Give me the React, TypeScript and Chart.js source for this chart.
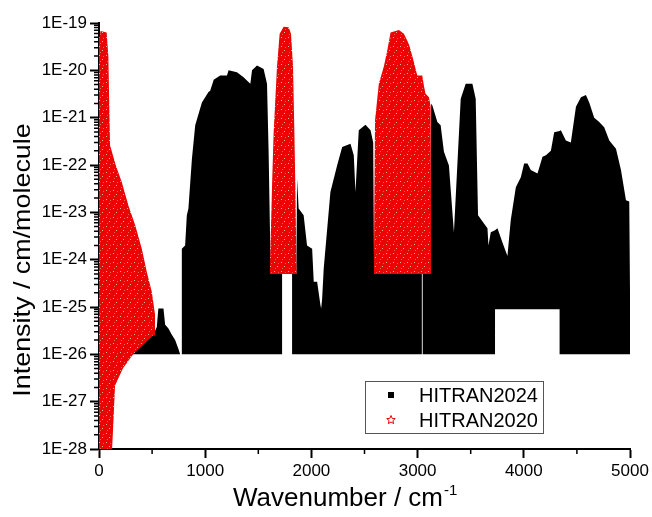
import React, { useEffect, useRef } from 'react';
import { Chart, registerables } from 'chart.js';

Chart.register(...registerables);

// ---------- data ----------
const seriesLabels = ['HITRAN2024', 'HITRAN2020'];

// HITRAN2024: upper envelope of the dense line list
const h24UpperWavenumber = [
  302, 330, 512, 544, 559, 607, 623, 654, 686, 717, 748, 764, 780, 780, 811, 827, 842, 875, 906, 969,
  1031, 1047, 1080, 1141, 1205, 1220, 1299, 1361, 1425, 1441, 1488, 1550, 1582, 1597, 1613, 1620, 1724, 1724, 1818, 1818,
  1858, 1865, 1880, 1927, 1959, 2007, 2022, 2054, 2085, 2092, 2101, 2116, 2179, 2242, 2290, 2368, 2399, 2415, 2446, 2509,
  2557, 2582, 2590, 3040, 3040, 3048, 3048, 3118, 3128, 3139, 3186, 3217, 3248, 3295, 3311, 3342, 3374, 3406, 3453, 3516,
  3547, 3569, 3625, 3658, 3667, 3689, 3729, 3752, 3799, 3846, 3877, 3925, 3972, 4003, 4035, 4066, 4129, 4176, 4208, 4255,
  4286, 4337, 4349, 4396, 4443, 4491, 4538, 4585, 4616, 4663, 4710, 4757, 4805, 4868, 4915, 4962, 4993, 5005,
];
const h24UpperIntensity = [
  1e-26, 2.5e-26, 2.6e-26, 3.8e-26, 9.3e-26, 9.3e-26, 4.2e-26, 3.5e-26, 2.6e-26, 2.0e-26, 1.3e-26, 1e-26, 1e-26, 1.7e-24, 2.0e-24, 8.7e-24, 1.2e-23, 1.35e-22, 6.9e-22, 2.1e-21,
  3.5e-21, 3.7e-21, 6.3e-21, 7.8e-21, 7.8e-21, 1.0e-20, 9.1e-21, 7.1e-21, 5.2e-21, 1.0e-20, 1.26e-20, 1.07e-20, 5.2e-21, 2.0e-22, 1.6e-24, 5e-25, 5e-25, 1e-26, 1e-26, 5e-25,
  5e-25, 5.1e-23, 1.2e-23, 8.7e-24, 2.0e-24, 1.7e-24, 3.4e-25, 3.4e-25, 1.1e-25, 9.3e-26, 1.5e-25, 6.5e-25, 2.7e-23, 9.8e-23, 2.4e-22, 2.8e-22, 1.6e-22, 2.7e-23, 5.4e-22, 7.1e-22,
  5.4e-22, 3.0e-22, 5e-25, 5e-25, 1e-26, 1e-26, 5e-25, 5e-25, 2.0e-21, 1.8e-21, 8.1e-22, 6.9e-22, 1.9e-22, 9.8e-23, 3.2e-23, 3.8e-24, 9.8e-23, 2.5e-21, 5.2e-21, 5.2e-21,
  2.5e-21, 8.7e-24, 5.8e-24, 4.6e-24, 2.0e-24, 3.8e-24, 4.2e-24, 4.6e-24, 2.3e-24, 1.2e-24, 6.8e-24, 3.4e-23, 5.5e-23, 1.07e-22, 1.07e-22, 7.8e-23, 6.6e-23, 1.5e-22, 1.6e-22, 2.0e-22,
  4.9e-22, 5.2e-22, 5.4e-22, 3.3e-22, 3.0e-22, 1.7e-21, 2.7e-21, 3.0e-21, 2.1e-21, 1.0e-21, 8.1e-22, 6.3e-22, 3.3e-22, 2.2e-22, 7.8e-23, 1.8e-23, 1.7e-23, 1e-26,
];
// HITRAN2024: lower envelope (intensity cut-off)
const h24LowerWavenumber = [302, 3729, 3729, 4337, 4337, 5005];
const h24LowerIntensity = [1e-26, 1e-26, 9e-26, 9e-26, 1e-26, 1e-26];

// HITRAN2020: three bands, upper / lower envelopes
const h20Band1UpperWavenumber = [0, 15, 72, 88, 104, 157, 214, 277, 340, 403, 450, 497, 528, 528];
const h20Band1UpperIntensity = [4.5e-20, 6.8e-20, 6.3e-20, 2.0e-20, 2.6e-22, 1.0e-22, 4.4e-23, 1.4e-23, 5.4e-24, 1.7e-24, 5.5e-25, 2.1e-25, 6.8e-26, 2.5e-26];
const h20Band1LowerWavenumber = [0, 123, 132, 151, 226, 321, 415, 509, 528];
const h20Band1LowerIntensity = [1e-28, 1e-28, 2.5e-28, 2.2e-27, 5.1e-27, 1e-26, 1.6e-26, 2.5e-26, 2.5e-26];

const h20Band2UpperWavenumber = [1608, 1629, 1644, 1676, 1701, 1739, 1786, 1808, 1827, 1840, 1849, 1858, 1862];
const h20Band2UpperIntensity = [5e-25, 3.4e-23, 4.6e-22, 1.2e-20, 5.9e-20, 8.3e-20, 8.1e-20, 5.9e-20, 1.2e-20, 4.6e-22, 3.4e-23, 9.8e-25, 5e-25];
const h20Band2LowerWavenumber = [1608, 1862];
const h20Band2LowerIntensity = [5e-25, 5e-25];

const h20Band3UpperWavenumber = [2588, 2599, 2635, 2682, 2714, 2745, 2824, 2871, 2918, 2950, 2997, 3044, 3059, 3075, 3107, 3123, 3128];
const h20Band3UpperIntensity = [5e-25, 8.7e-22, 5.2e-21, 1.2e-20, 2.6e-20, 6.3e-20, 7.1e-20, 5.9e-20, 3.6e-20, 2.0e-20, 7.8e-21, 7.8e-21, 4.8e-21, 3.2e-21, 2.7e-21, 1.7e-21, 5e-25];
const h20Band3LowerWavenumber = [2588, 3128];
const h20Band3LowerIntensity = [5e-25, 5e-25];

// axes
const xTickValues = [0, 1000, 2000, 3000, 4000, 5000];
const xMinorTickValues = [500, 1500, 2500, 3500, 4500];
const yTickValues = [1e-28, 1e-27, 1e-26, 1e-25, 1e-24, 1e-23, 1e-22, 1e-21, 1e-20, 1e-19];
const yMinorMultipliers = [2, 3, 4, 5, 6, 7, 8, 9];
const xTitle = 'Wavenumber / cm';
const xTitleSup = '-1';
const yTitle = 'Intensity / cm/molecule';

const FONT = 'Arial, "Liberation Sans", Helvetica, sans-serif';
const BLACK = '#000000';
const RED = 'rgb(234,4,4)';

function pts(xs: number[], ys: number[]) {
  return xs.map((x, i) => ({ x, y: ys[i] }));
}

function starPath(ctx: CanvasRenderingContext2D, cx: number, cy: number, r: number) {
  const inner = r * 0.45;
  ctx.beginPath();
  for (let i = 0; i < 10; i++) {
    const rr = i % 2 === 0 ? r : inner;
    const ang = -Math.PI / 2 + (i * Math.PI) / 5;
    const px = cx + rr * Math.cos(ang);
    const py = cy + rr * Math.sin(ang);
    if (i === 0) ctx.moveTo(px, py);
    else ctx.lineTo(px, py);
  }
  ctx.closePath();
}

// marker texture of the dense star symbols (style only)
function makeRedPattern(): CanvasPattern | string {
  const c = document.createElement('canvas');
  c.width = 7;
  c.height = 9;
  const g = c.getContext('2d');
  if (!g) return RED;
  g.fillStyle = RED;
  g.fillRect(0, 0, 7, 9);
  g.fillStyle = 'rgba(255,225,225,0.75)';
  g.fillRect(1, 1, 1, 1);
  g.fillRect(4, 5, 1, 1);
  g.fillStyle = 'rgba(255,200,200,0.45)';
  g.fillRect(5, 2, 1, 1);
  g.fillRect(2, 7, 1, 1);
  const p = g.createPattern(c, 'repeat');
  return p || RED;
}

export default function App() {
  const ref = useRef<HTMLCanvasElement | null>(null);

  useEffect(() => {
    const canvas = ref.current;
    if (!canvas) return;
    const redFill = makeRedPattern();

    const decor = {
      id: 'decor',
      afterDraw(chart: any) {
        const { ctx, chartArea: a, scales } = chart;
        const xs = scales.x;
        const ys = scales.y;
        ctx.save();
        // minor ticks
        ctx.strokeStyle = '#000';
        ctx.lineWidth = 1.5;
        ctx.beginPath();
        for (let i = 0; i < yTickValues.length - 1; i++) {
          for (const m of yMinorMultipliers) {
            const py = ys.getPixelForValue(yTickValues[i] * m);
            ctx.moveTo(a.left - 5, py);
            ctx.lineTo(a.left, py);
          }
        }
        for (const v of xMinorTickValues) {
          const px = xs.getPixelForValue(v);
          ctx.moveTo(px, a.bottom);
          ctx.lineTo(px, a.bottom + 5);
        }
        ctx.stroke();

        // x title with superscript
        ctx.fillStyle = '#000';
        ctx.font = `26px ${FONT}`;
        ctx.textAlign = 'left';
        ctx.textBaseline = 'alphabetic';
        const tx = a.left + 134;
        const ty = a.bottom + 57;
        ctx.fillText(xTitle, tx, ty);
        const w = ctx.measureText(xTitle).width;
        ctx.font = `15px ${FONT}`;
        ctx.fillText(xTitleSup, tx + w + 1, ty - 11);

        // y title
        ctx.save();
        ctx.translate(30, a.top + 237);
        ctx.rotate(-Math.PI / 2);
        ctx.scale(1.12, 1);
        ctx.font = `24px ${FONT}`;
        ctx.textAlign = 'center';
        ctx.fillText(yTitle, 0, 0);
        ctx.restore();

        // legend
        const lx = a.left + 266;
        const ly = a.top + 358;
        const lw = 178;
        const lh = 52;
        ctx.fillStyle = '#fff';
        ctx.fillRect(lx, ly, lw, lh);
        ctx.strokeStyle = '#555';
        ctx.lineWidth = 1;
        ctx.strokeRect(lx + 0.5, ly + 0.5, lw, lh);
        ctx.fillStyle = BLACK;
        ctx.fillRect(lx + 23, ly + 11, 6, 6);
        ctx.strokeStyle = RED;
        ctx.lineWidth = 1;
        starPath(ctx, lx + 26, ly + 39, 4.5);
        ctx.stroke();
        ctx.fillStyle = '#000';
        ctx.font = `20px ${FONT}`;
        ctx.textAlign = 'left';
        ctx.textBaseline = 'middle';
        ctx.fillText(seriesLabels[0], lx + 54, ly + 15);
        ctx.fillText(seriesLabels[1], lx + 54, ly + 40);
        ctx.restore();
      },
    };

    const common = { pointRadius: 0, borderWidth: 0, borderColor: 'transparent', tension: 0 };

    const chart = new Chart(canvas, {
      type: 'line',
      data: {
        datasets: [
          { ...common, label: seriesLabels[0], data: pts(h24UpperWavenumber, h24UpperIntensity), backgroundColor: BLACK, fill: 1, order: 2 },
          { ...common, label: seriesLabels[0] + ' cut-off', data: pts(h24LowerWavenumber, h24LowerIntensity), fill: false, order: 2 },
          { ...common, label: seriesLabels[1], data: pts(h20Band1UpperWavenumber, h20Band1UpperIntensity), backgroundColor: redFill, fill: 3, order: 1 },
          { ...common, label: seriesLabels[1] + ' low 1', data: pts(h20Band1LowerWavenumber, h20Band1LowerIntensity), fill: false, order: 1 },
          { ...common, label: seriesLabels[1] + ' b2', data: pts(h20Band2UpperWavenumber, h20Band2UpperIntensity), backgroundColor: redFill, fill: 5, order: 1 },
          { ...common, label: seriesLabels[1] + ' low 2', data: pts(h20Band2LowerWavenumber, h20Band2LowerIntensity), fill: false, order: 1 },
          { ...common, label: seriesLabels[1] + ' b3', data: pts(h20Band3UpperWavenumber, h20Band3UpperIntensity), backgroundColor: redFill, fill: 7, order: 1 },
          { ...common, label: seriesLabels[1] + ' low 3', data: pts(h20Band3LowerWavenumber, h20Band3LowerIntensity), fill: false, order: 1 },
        ] as any,
      },
      options: {
        responsive: false,
        animation: false,
        devicePixelRatio: 1,
        events: [],
        layout: { padding: { top: 23, right: 22, left: 0, bottom: 0 } },
        plugins: { legend: { display: false }, tooltip: { enabled: false } },
        scales: {
          x: {
            type: 'linear',
            min: 0,
            max: 5000,
            afterBuildTicks: (s: any) => {
              s.ticks = xTickValues.map((v) => ({ value: v }));
            },
            afterFit: (s: any) => {
              s.height = 68;
            },
            grid: { display: true, drawOnChartArea: false, drawTicks: true, tickLength: 9, tickWidth: 2, tickColor: '#000' },
            border: { display: true, color: '#000', width: 2 },
            ticks: {
              color: '#000',
              font: { family: FONT, size: 17 },
              padding: 3,
              maxRotation: 0,
              autoSkip: false,
              callback: (v: any) => String(v),
            },
          },
          y: {
            type: 'logarithmic',
            min: 1e-28,
            max: 1e-19,
            afterBuildTicks: (s: any) => {
              s.ticks = yTickValues.map((v) => ({ value: v, major: true }));
            },
            afterFit: (s: any) => {
              s.width = 99;
            },
            grid: { display: true, drawOnChartArea: false, drawTicks: true, tickLength: 9, tickWidth: 2, tickColor: '#000' },
            border: { display: true, color: '#000', width: 2 },
            ticks: {
              color: '#000',
              font: { family: FONT, size: 17 },
              padding: 3,
              autoSkip: false,
              callback: (v: any) => '1E' + Math.round(Math.log10(Number(v))),
            },
          },
        },
      } as any,
      plugins: [decor],
    });

    return () => chart.destroy();
  }, []);

  return (
    <div style={{ position: 'absolute', left: 0, top: 0, width: 652, height: 517, background: '#fff' }}>
      <canvas ref={ref} width={652} height={517} style={{ display: 'block', width: 652, height: 517 }} />
    </div>
  );
}
